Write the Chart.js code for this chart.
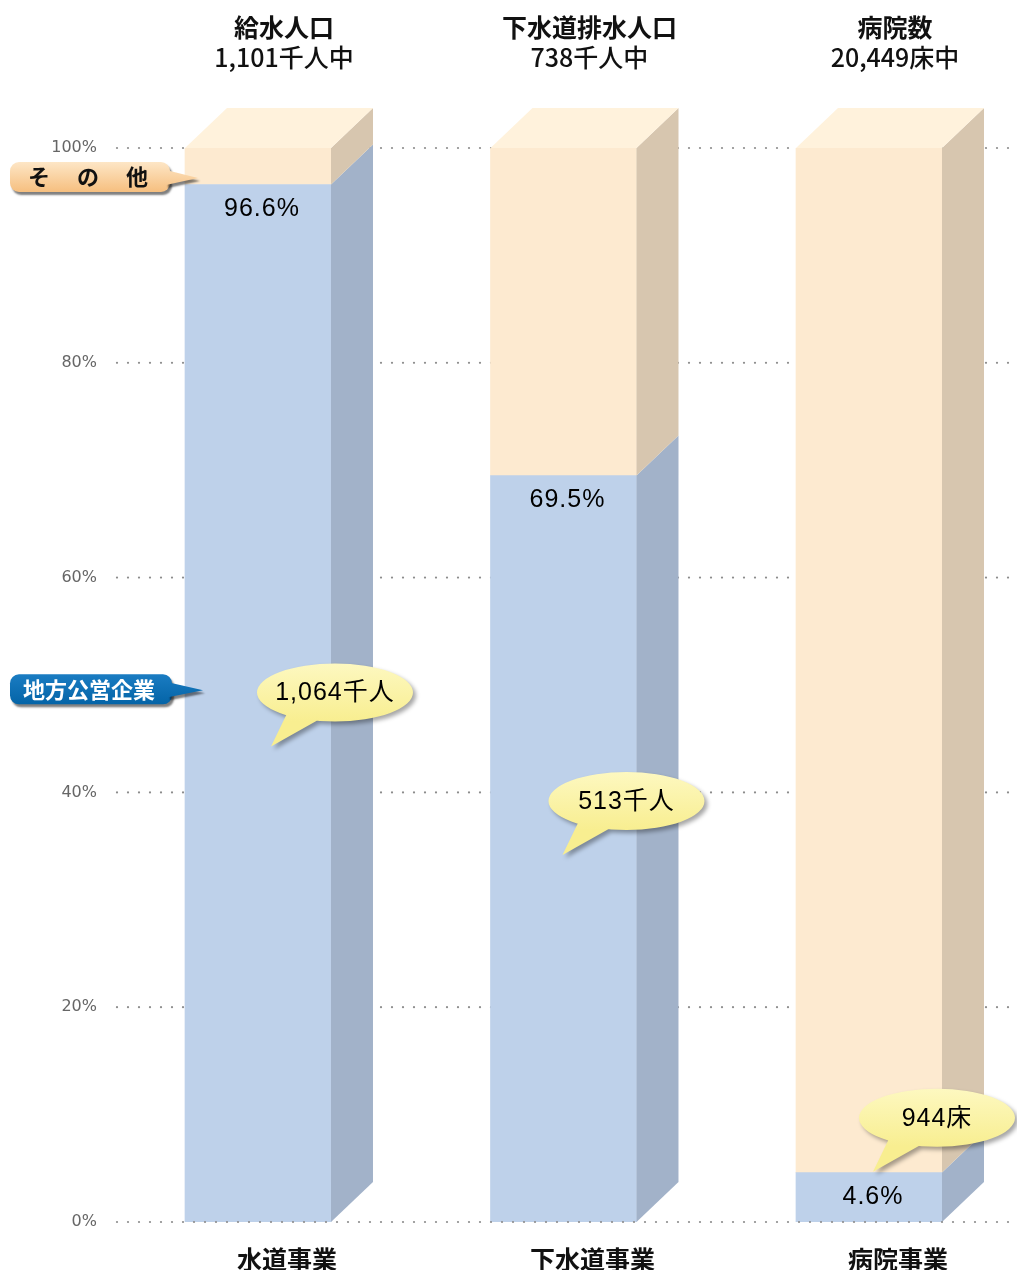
<!DOCTYPE html>
<html lang="ja">
<head>
<meta charset="utf-8">
<title>地方公営企業の占める割合</title>
<script src="https://cdn.jsdelivr.net/npm/chart.js@4.4.1/dist/chart.umd.min.js"></script>
<style>
  html, body { margin: 0; padding: 0; background: #fff; }
  #wrap { position: relative; width: 1017px; height: 1270px; }
</style>
</head>
<body>
<div id="wrap"><canvas id="chart"></canvas></div>
<script>
// ---- data ----
const categories = ['水道事業', '下水道事業', '病院事業'];
const headTitles = ['給水人口', '下水道排水人口', '病院数'];
const headTotals = ['1,101千人中', '738千人中', '20,449床中'];
const seriesNames = ['地方公営企業', 'その他'];
const publicShare = [96.6, 69.5, 4.6];
const otherShare = [3.4, 30.5, 95.4];
const publicCounts = ['1,064千人', '513千人', '944床'];
const yTicks = [0, 20, 40, 60, 80, 100];

// ---- layout / style ----
const DX = 42, DY = 40;                 // 3d depth of the columns
const bubbleDx = [77, 63, 68];          // bubble centre, px right of column centre
const bubbleAt = [49.3, 39.2, 9.7];     // bubble centre, in axis units
const tagAt = [49.6, 97.3];             // left-hand series tags, in axis units
const CJK = "'Noto Sans CJK JP', sans-serif";
const LAT = "'Liberation Sans', 'Noto Sans CJK JP', sans-serif";

const BLUE = { front: '#bed1ea', side: '#a2b2c9' };
const ORANGE = { front: '#fdead0', side: '#d7c6af', top: '#fff2dc' };

function poly(ctx, pts) {
  ctx.beginPath();
  pts.forEach((p, i) => i ? ctx.lineTo(p[0], p[1]) : ctx.moveTo(p[0], p[1]));
  ctx.closePath();
  ctx.fill();
}

function dots(ctx, x0, x1, y) {
  ctx.fillStyle = '#8c8c8c';
  for (let x = x0; x <= x1; x += 11) {
    ctx.beginPath();
    ctx.arc(x, y, 1.1, 0, Math.PI * 2);
    ctx.fill();
  }
}

function bubble(ctx, cx, cy, text) {
  const rx = 78, ry = 29;
  const p = new Path2D();
  p.ellipse(cx, cy, rx, ry, 0, 0, Math.PI * 2);
  // tail, same winding as the ellipse
  p.moveTo(cx - 16, cy + 27);
  p.lineTo(cx - 64, cy + 54);
  p.lineTo(cx - 48, cy + 21);
  p.closePath();
  ctx.save();
  ctx.shadowColor = 'rgba(0,0,0,0.35)';
  ctx.shadowBlur = 4;
  ctx.shadowOffsetX = 3;
  ctx.shadowOffsetY = 3;
  const g = ctx.createLinearGradient(0, cy - ry, 0, cy + ry);
  g.addColorStop(0, '#fdf8c0');
  g.addColorStop(1, '#f8ee90');
  ctx.fillStyle = g;
  ctx.fill(p);
  ctx.restore();
  ctx.fillStyle = '#000';
  ctx.font = '25px ' + LAT;
  ctx.letterSpacing = '1px';
  ctx.textAlign = 'center';
  ctx.textBaseline = 'middle';
  ctx.fillText(text, cx, cy + 1);
  ctx.letterSpacing = '0px';
}

function tag(ctx, y, w, tipX, c0, c1, draw) {
  const x = 10, h = 30, r = 9, top = y - h / 2;
  const p = new Path2D();
  p.roundRect(x, top, w, h, r);
  ctx.save();
  ctx.shadowColor = 'rgba(0,0,0,0.5)';
  ctx.shadowBlur = 2;
  ctx.shadowOffsetX = 2;
  ctx.shadowOffsetY = 3;
  const g = ctx.createLinearGradient(0, top, 0, top + h);
  g.addColorStop(0, c0);
  g.addColorStop(1, c1);
  ctx.fillStyle = g;
  ctx.fill(p);
  ctx.beginPath();
  ctx.moveTo(x + w - 4, y - 7);
  ctx.lineTo(tipX, y + 1);
  ctx.lineTo(x + w - 4, y + 8);
  ctx.closePath();
  ctx.fill();
  ctx.restore();
  draw(x, w);
}

const cube3d = {
  id: 'cube3d',
  beforeDatasetsDraw(chart) {
    const { ctx, chartArea, scales } = chart;
    yTicks.filter(v => v > 0).forEach(v => dots(ctx, chartArea.left, chartArea.right, scales.y.getPixelForValue(v)));
  },
  afterDatasetsDraw(chart) {
    const { ctx, chartArea, scales } = chart;
    const n = chart.data.datasets.length;
    chart.data.datasets.forEach((ds, di) => {
      chart.getDatasetMeta(di).data.forEach(bar => {
        const { x, y, base, width } = bar.getProps(['x', 'y', 'base', 'width'], true);
        const l = x - width / 2, r = x + width / 2;
        ctx.fillStyle = ds.sideColor;
        poly(ctx, [[r, y], [r + DX, y - DY], [r + DX, base - DY], [r, base]]);
        if (di === n - 1) {
          ctx.fillStyle = ds.topColor;
          poly(ctx, [[l, y], [l + DX, y - DY], [r + DX, y - DY], [r, y]]);
        }
      });
    });
    dots(ctx, chartArea.left, chartArea.right, scales.y.getPixelForValue(0));

    const bars = chart.getDatasetMeta(0).data;
    ctx.textAlign = 'center';
    ctx.textBaseline = 'middle';
    // share labels just under the top of the blue segment
    bars.forEach((bar, i) => {
      ctx.fillStyle = '#000';
      ctx.font = '25px ' + LAT;
      ctx.letterSpacing = '1px';
      ctx.fillText(publicShare[i].toFixed(1) + '%', bar.x + 4, bar.y + 25);
      ctx.letterSpacing = '0px';
    });
    // column headings
    bars.forEach((bar, i) => {
      ctx.fillStyle = '#111';
      ctx.font = 'bold 25px ' + CJK;
      ctx.fillText(headTitles[i], bar.x + 26, 27);
      ctx.font = '500 25px ' + CJK;
      ctx.fillText(headTotals[i], bar.x + 26, 57);
    });
    // count bubbles
    bars.forEach((bar, i) => {
      bubble(ctx, bar.x + bubbleDx[i], scales.y.getPixelForValue(bubbleAt[i]), publicCounts[i]);
    });
    // series tags on the left
    tag(ctx, scales.y.getPixelForValue(tagAt[1]), 160, 198, '#fde6c6', '#f6bf7f', (x, w) => {
      ctx.fillStyle = '#111';
      ctx.font = 'bold 22px ' + CJK;
      const cx = x + w / 2 - 2, y = scales.y.getPixelForValue(tagAt[1]);
      Array.from(seriesNames[1]).forEach((ch, k) => ctx.fillText(ch, cx + (k - 1) * 49, y));
    });
    tag(ctx, scales.y.getPixelForValue(tagAt[0]), 162, 203, '#1a7cc2', '#0464a7', (x, w) => {
      ctx.fillStyle = '#fff';
      ctx.font = 'bold 22px ' + CJK;
      ctx.fillText(seriesNames[0], x + w / 2 - 2, scales.y.getPixelForValue(tagAt[0]));
    });
  }
};

new Chart(document.getElementById('chart'), {
  type: 'bar',
  data: {
    datasets: [
      { label: seriesNames[0], data: publicShare.map((v, i) => ({ x: i, y: v })),
        backgroundColor: BLUE.front, sideColor: BLUE.side },
      { label: seriesNames[1], data: otherShare.map((v, i) => ({ x: i, y: v })),
        backgroundColor: ORANGE.front, sideColor: ORANGE.side, topColor: ORANGE.top }
    ]
  },
  options: {
    responsive: true,
    maintainAspectRatio: false,
    animation: false,
    layout: { padding: { top: 148, left: 0, right: 0, bottom: 0 } },
    plugins: { legend: { display: false }, tooltip: { enabled: false } },
    datasets: { bar: { barThickness: 146, borderWidth: 0 } },
    scales: {
      x: {
        type: 'linear', stacked: true, min: -0.4615, max: 2.4845, offset: false,
        grid: { display: false, drawTicks: false },
        border: { display: false },
        afterBuildTicks: s => { s.ticks = categories.map((_, i) => ({ value: i })); },
        afterFit: s => { s.height = 48; },
        ticks: {
          callback: v => categories[v],
          padding: 22, labelOffset: 29, autoSkip: false, maxRotation: 0,
          color: '#111', font: { family: CJK, size: 25, weight: 'bold' }
        }
      },
      y: {
        stacked: true, min: 0, max: 100,
        grid: { display: false, drawTicks: false },
        border: { display: false },
        afterBuildTicks: s => { s.ticks = yTicks.map(v => ({ value: v })); },
        afterFit: s => { s.width = 117; },
        ticks: {
          callback: v => v + '%',
          padding: 20,
          color: '#666', font: { family: "'DejaVu Sans', sans-serif", size: 16, weight: 'normal' }
        }
      }
    }
  },
  plugins: [cube3d]
});
</script>
</body>
</html>
